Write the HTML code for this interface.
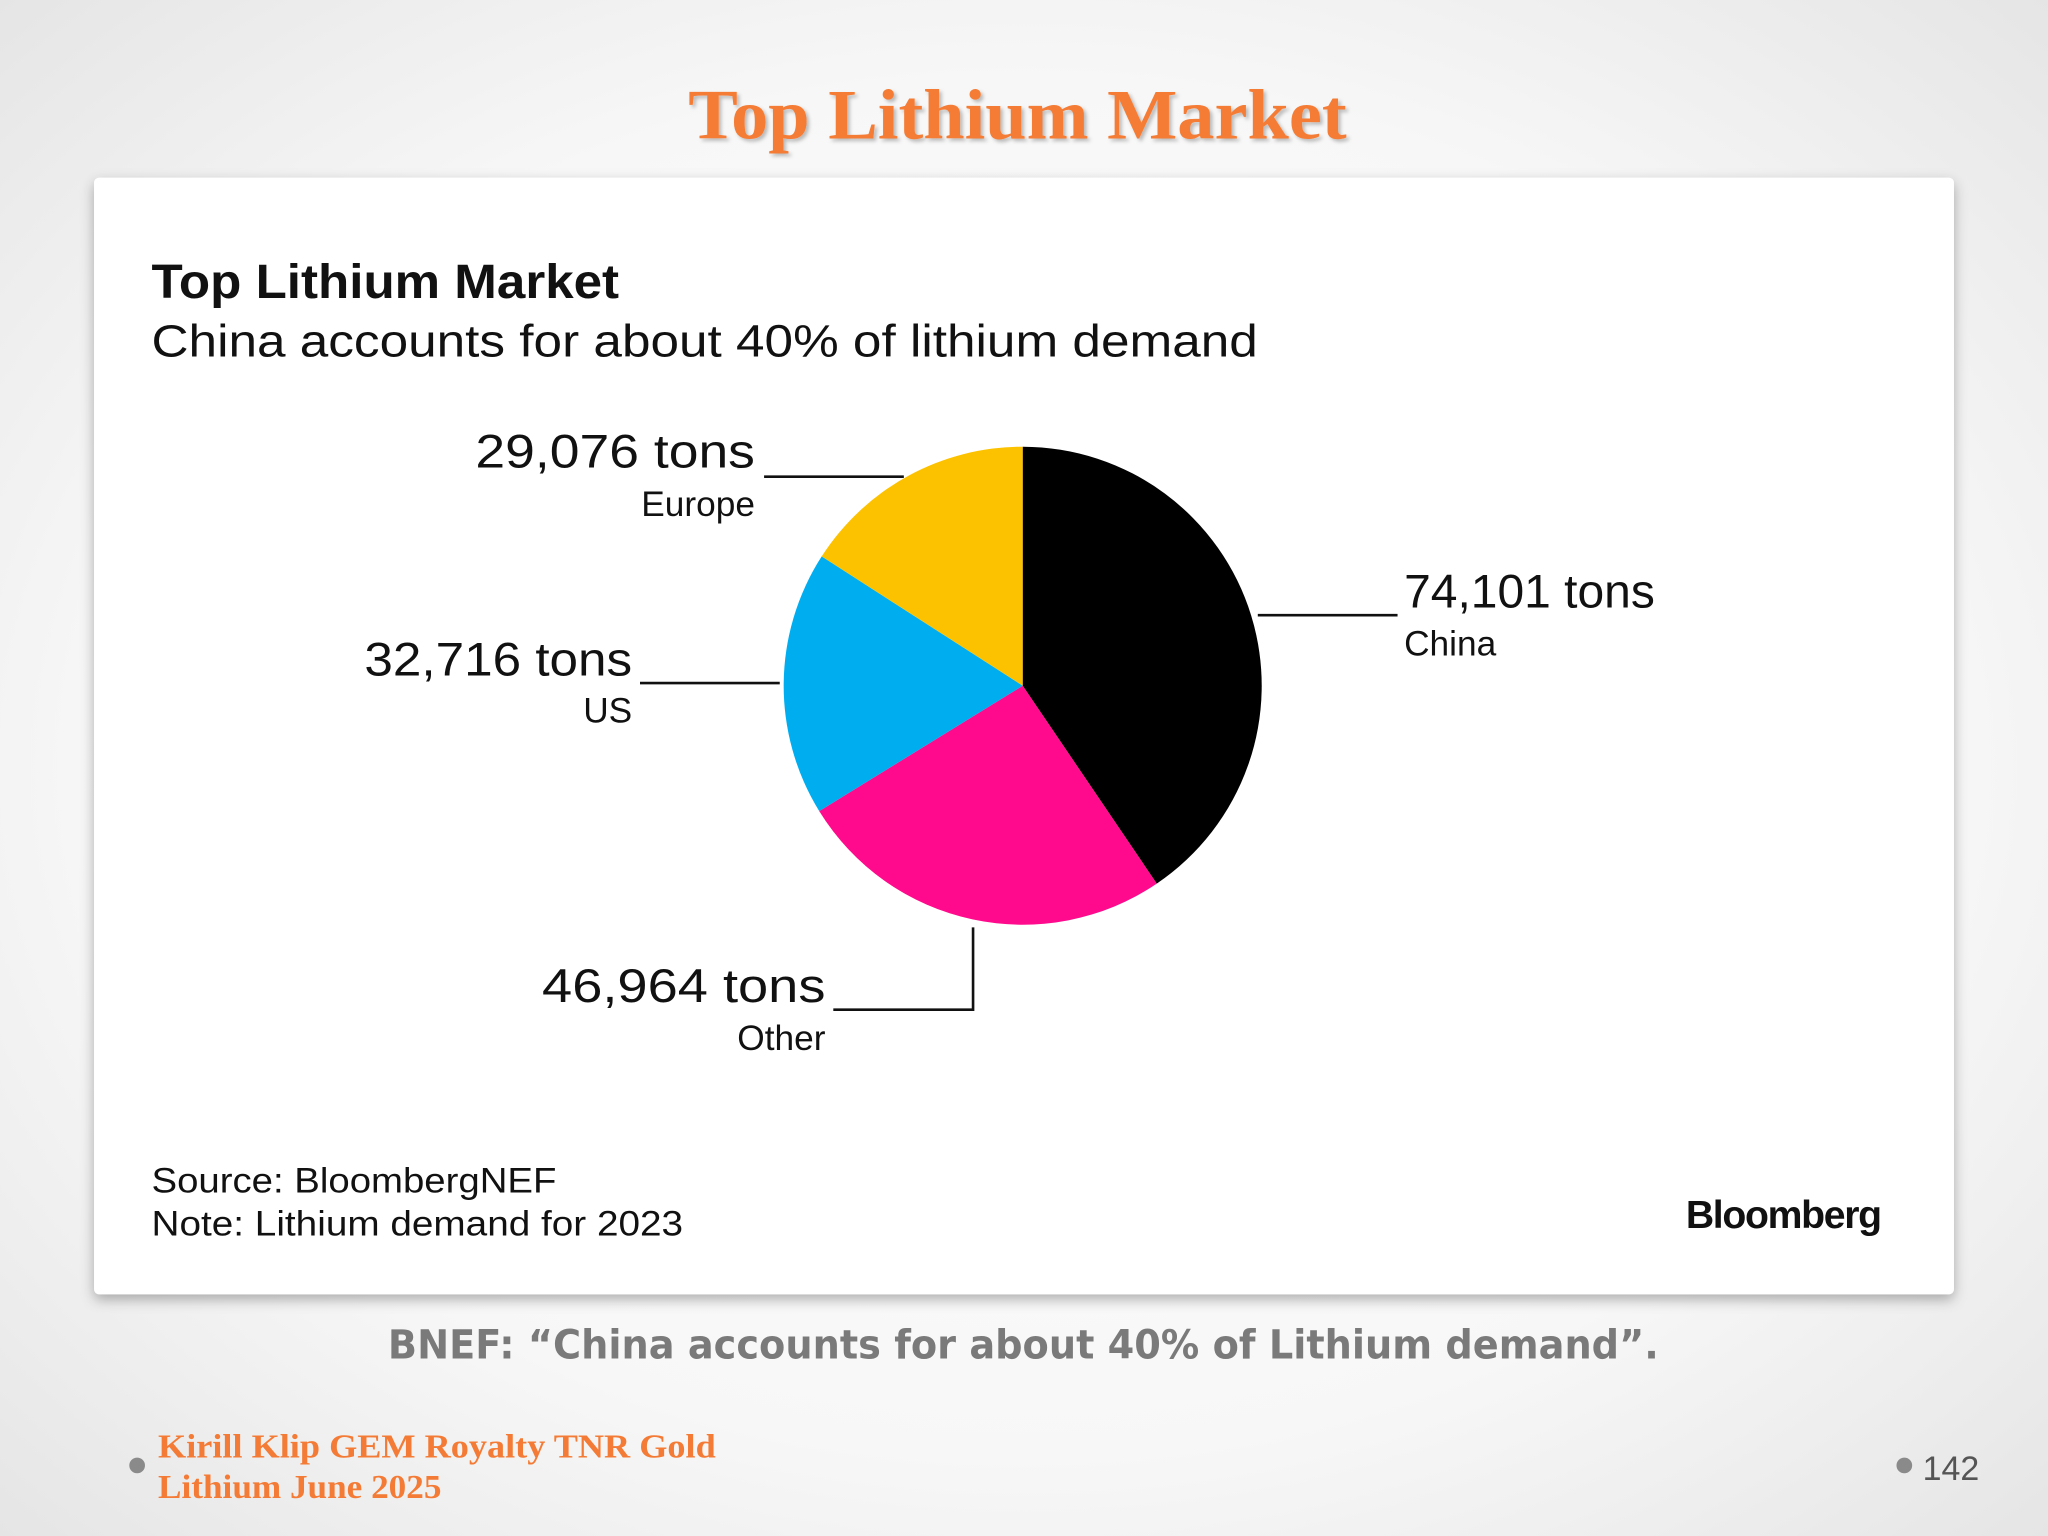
<!DOCTYPE html>
<html><head><meta charset="utf-8"><style>
html,body{margin:0;padding:0;width:2048px;height:1536px;overflow:hidden}
svg{display:block}
</style></head><body>
<svg width="2048" height="1536" viewBox="0 0 1568 1176" xmlns="http://www.w3.org/2000/svg">
<defs>
<radialGradient id="bg" cx="50%" cy="50%" r="75%">
<stop offset="0" stop-color="#ffffff"/><stop offset="0.6" stop-color="#f7f7f7"/><stop offset="1" stop-color="#e2e2e2"/>
</radialGradient>
<filter id="sh" x="-5%" y="-5%" width="110%" height="112%"><feDropShadow dx="0" dy="4" stdDeviation="5" flood-color="#000" flood-opacity="0.3"/></filter>
<filter id="tsh"><feDropShadow dx="2" dy="2" stdDeviation="1.5" flood-color="#000" flood-opacity="0.25"/></filter>
</defs>
<rect width="1568" height="1176" fill="url(#bg)"/>
<text x="527" y="106" textLength="504" lengthAdjust="spacingAndGlyphs" font-family="Liberation Serif, serif" font-weight="bold" font-size="54" fill="#f47b35" filter="url(#tsh)">Top Lithium Market</text>
<rect x="72" y="136" width="1424" height="855" rx="4" fill="#fff" filter="url(#sh)"/>
<g font-family="Liberation Sans, sans-serif" fill="#111">
<text x="116" y="228" textLength="358" lengthAdjust="spacingAndGlyphs" font-weight="bold" font-size="37">Top Lithium Market</text>
<text x="116" y="273" textLength="847" lengthAdjust="spacingAndGlyphs" font-size="35">China accounts for about 40% of lithium demand</text>
<g id="pie"></g>
<g stroke="#111" stroke-width="2" fill="none">
<polyline points="585,365 692,365"/>
<polyline points="490,523 597,523"/>
<polyline points="963,471 1070,471"/>
<polyline points="638,773 745,773 745,710"/>
</g>
<text x="364" y="358" textLength="214" lengthAdjust="spacingAndGlyphs" font-size="36">29,076 tons</text>
<text x="578" y="395" text-anchor="end" font-size="27">Europe</text>
<text x="279" y="517" textLength="205" lengthAdjust="spacingAndGlyphs" font-size="36">32,716 tons</text>
<text x="484" y="553" text-anchor="end" font-size="27">US</text>
<text x="1075" y="465" textLength="192" lengthAdjust="spacingAndGlyphs" font-size="36">74,101 tons</text>
<text x="1075" y="502" font-size="27">China</text>
<text x="415" y="767" textLength="217" lengthAdjust="spacingAndGlyphs" font-size="36">46,964 tons</text>
<text x="632" y="804" text-anchor="end" font-size="27">Other</text>
<text x="116" y="913" textLength="310" lengthAdjust="spacingAndGlyphs" font-size="27">Source: BloombergNEF</text>
<text x="116" y="946" textLength="407" lengthAdjust="spacingAndGlyphs" font-size="27">Note: Lithium demand for 2023</text>
<text x="1440" y="940" text-anchor="end" font-weight="bold" font-size="30" letter-spacing="-1">Bloomberg</text>
</g>
<text x="297" y="1040" textLength="973" lengthAdjust="spacingAndGlyphs" font-family="DejaVu Sans, sans-serif" font-weight="bold" font-size="31" fill="#7a7a7a">BNEF: “China accounts for about 40% of Lithium demand”.</text>
<circle cx="105" cy="1122" r="6" fill="#8a8a8a"/>
<text x="121" y="1116" textLength="427" lengthAdjust="spacingAndGlyphs" font-family="Liberation Serif, serif" font-weight="bold" font-size="26" fill="#f47b35">Kirill Klip GEM Royalty TNR Gold</text>
<text x="121" y="1147" textLength="217" lengthAdjust="spacingAndGlyphs" font-family="Liberation Serif, serif" font-weight="bold" font-size="26" fill="#f47b35">Lithium June 2025</text>
<circle cx="1458" cy="1122" r="6" fill="#8a8a8a"/>
<text x="1472" y="1133" font-family="Liberation Sans, sans-serif" font-size="26" fill="#555">142</text>
</svg>
<script>
const categories = ["China", "Other", "US", "Europe"];
const values = [74101, 46964, 32716, 29076];
const colors = ["#000000", "#ff0a8c", "#00aef0", "#fcc200"];
const cx = 783, cy = 525, r = 183;
const g = document.getElementById('pie');
const total = values.reduce((a, b) => a + b, 0);
let a0 = 0;
function pt(a) { return [cx + r * Math.sin(a), cy - r * Math.cos(a)]; }
values.forEach((v, i) => {
  const a1 = a0 + v / total * 2 * Math.PI;
  const p0 = pt(a0), p1 = pt(a1);
  const large = (a1 - a0) > Math.PI ? 1 : 0;
  const path = document.createElementNS('http://www.w3.org/2000/svg', 'path');
  path.setAttribute('d', `M${cx},${cy} L${p0[0]},${p0[1]} A${r},${r} 0 ${large} 1 ${p1[0]},${p1[1]} Z`);
  path.setAttribute('fill', colors[i]);
  
  
  g.appendChild(path);
  a0 = a1;
});
</script>
</body></html>
